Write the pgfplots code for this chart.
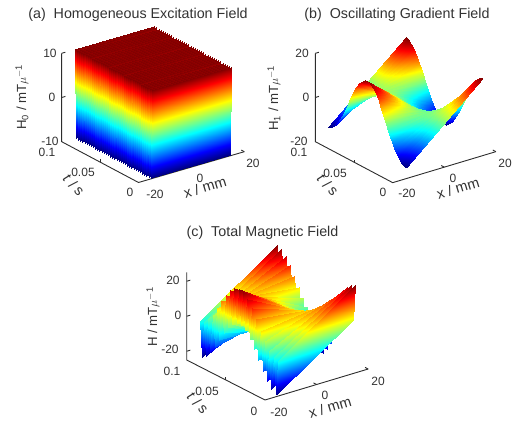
\documentclass[border=0pt]{standalone}
\usepackage{pgfplots}
\pgfplotsset{compat=1.18}
\usepackage{fontspec}
\setmainfont{Liberation Sans}
\definecolor{axc}{RGB}{45,45,45}
\definecolor{txc}{RGB}{50,50,50}
\pgfplotsset{
  fieldaxis/.style={hide axis, clip=false, anchor=origin, xmin=-20, xmax=20, ymin=0, ymax=0.1},
  fieldsurf/.style={surf, shader=interp, colormap/jet, mesh/cols=2, z buffer=none},
  axl/.style={axc, line width=0.9pt, no marks, forget plot},
}
\newcommand{\Lb}[4][0]{\node[text=txc, font=\fontsize{#4}{#4}\selectfont, rotate=#1, inner sep=0pt] at (#2) {\vphantom{}#3};}
\begin{document}
\begin{tikzpicture}[x=1pt,y=1pt]
\useasboundingbox (0,0) rectangle (512,423);
% ---------- (a)
\begin{axis}[fieldaxis, at={(191.4pt,300.1pt)}, x={(2.645pt,0.77pt)}, y={(-768pt,408pt)}, z={(0pt,4.42pt)},
  zmin=-10, zmax=10, point meta min=-10, point meta max=10]
\addplot3[axl] coordinates {(-20,0.1,10)(-20,0.1,-10)(-20,0,-10)(20,0,-10)};
\addplot3[axl] coordinates {(-20,0.1,10)(-18.6,0.1,10)};
\addplot3[axl] coordinates {(-20,0.1,0)(-18.6,0.1,0)};
\addplot3[axl] coordinates {(-20,0.05,-10)(-20,0.05,-9.4)};
\addplot3[axl] coordinates {(0,0,-10)(0,0.004,-10)};
\addplot3[axl] coordinates {(20,0,-10)(20,0.004,-10)};
\addplot3[fieldsurf, point meta=z] coordinates {
(-15,0.1,10)(15,0.1,10)
(-15,0.09861,-10)(15,0.09861,-10)
(-15,0.09722,10)(15,0.09722,10)
(-15,0.09583,-10)(15,0.09583,-10)
(-15,0.09444,10)(15,0.09444,10)
(-15,0.09306,-10)(15,0.09306,-10)
(-15,0.09167,10)(15,0.09167,10)
(-15,0.09028,-10)(15,0.09028,-10)
(-15,0.08889,10)(15,0.08889,10)
(-15,0.0875,-10)(15,0.0875,-10)
(-15,0.08611,10)(15,0.08611,10)
(-15,0.08472,-10)(15,0.08472,-10)
(-15,0.08333,10)(15,0.08333,10)
(-15,0.08194,-10)(15,0.08194,-10)
(-15,0.08056,10)(15,0.08056,10)
(-15,0.07917,-10)(15,0.07917,-10)
(-15,0.07778,10)(15,0.07778,10)
(-15,0.07639,-10)(15,0.07639,-10)
(-15,0.075,10)(15,0.075,10)
(-15,0.07361,-10)(15,0.07361,-10)
(-15,0.07222,10)(15,0.07222,10)
(-15,0.07083,-10)(15,0.07083,-10)
(-15,0.06944,10)(15,0.06944,10)
(-15,0.06806,-10)(15,0.06806,-10)
(-15,0.06667,10)(15,0.06667,10)
(-15,0.06528,-10)(15,0.06528,-10)
(-15,0.06389,10)(15,0.06389,10)
(-15,0.0625,-10)(15,0.0625,-10)
(-15,0.06111,10)(15,0.06111,10)
(-15,0.05972,-10)(15,0.05972,-10)
(-15,0.05833,10)(15,0.05833,10)
(-15,0.05694,-10)(15,0.05694,-10)
(-15,0.05556,10)(15,0.05556,10)
(-15,0.05417,-10)(15,0.05417,-10)
(-15,0.05278,10)(15,0.05278,10)
(-15,0.05139,-10)(15,0.05139,-10)
(-15,0.05,10)(15,0.05,10)
(-15,0.04861,-10)(15,0.04861,-10)
(-15,0.04722,10)(15,0.04722,10)
(-15,0.04583,-10)(15,0.04583,-10)
(-15,0.04444,10)(15,0.04444,10)
(-15,0.04306,-10)(15,0.04306,-10)
(-15,0.04167,10)(15,0.04167,10)
(-15,0.04028,-10)(15,0.04028,-10)
(-15,0.03889,10)(15,0.03889,10)
(-15,0.0375,-10)(15,0.0375,-10)
(-15,0.03611,10)(15,0.03611,10)
(-15,0.03472,-10)(15,0.03472,-10)
(-15,0.03333,10)(15,0.03333,10)
(-15,0.03194,-10)(15,0.03194,-10)
(-15,0.03056,10)(15,0.03056,10)
(-15,0.02917,-10)(15,0.02917,-10)
(-15,0.02778,10)(15,0.02778,10)
(-15,0.02639,-10)(15,0.02639,-10)
(-15,0.025,10)(15,0.025,10)
(-15,0.02361,-10)(15,0.02361,-10)
(-15,0.02222,10)(15,0.02222,10)
(-15,0.02083,-10)(15,0.02083,-10)
(-15,0.01944,10)(15,0.01944,10)
(-15,0.01806,-10)(15,0.01806,-10)
(-15,0.01667,10)(15,0.01667,10)
(-15,0.01528,-10)(15,0.01528,-10)
(-15,0.01389,10)(15,0.01389,10)
(-15,0.0125,-10)(15,0.0125,-10)
(-15,0.01111,10)(15,0.01111,10)
(-15,0.00972,-10)(15,0.00972,-10)
(-15,0.00833,10)(15,0.00833,10)
(-15,0.00694,-10)(15,0.00694,-10)
(-15,0.00556,10)(15,0.00556,10)
(-15,0.00417,-10)(15,0.00417,-10)
(-15,0.00278,10)(15,0.00278,10)
(-15,0.00139,-10)(15,0.00139,-10)
(-15,0,10)(15,0,10)
};
\end{axis}
% ---------- (b)
\begin{axis}[fieldaxis, at={(444.3pt,300pt)}, x={(2.58pt,0.775pt)}, y={(-774pt,410pt)}, z={(0pt,2.208pt)},
  zmin=-20, zmax=20, point meta min=-15, point meta max=15]
\addplot3[axl] coordinates {(-20,0.1,20)(-20,0.1,-20)(-20,0,-20)(20,0,-20)};
\addplot3[axl] coordinates {(-20,0.1,20)(-18.6,0.1,20)};
\addplot3[axl] coordinates {(-20,0.1,0)(-18.6,0.1,0)};
\addplot3[axl] coordinates {(-20,0.05,-20)(-20,0.05,-18.8)};
\addplot3[axl] coordinates {(0,0,-20)(0,0.004,-20)};
\addplot3[axl] coordinates {(20,0,-20)(20,0.004,-20)};
\addplot3[fieldsurf, point meta=z] coordinates {
(-15,0.1,-15)(15,0.1,15)
(-15,0.0975,-14.82)(15,0.0975,14.82)
(-15,0.095,-14.27)(15,0.095,14.27)
(-15,0.0925,-13.36)(15,0.0925,13.36)
(-15,0.09,-12.14)(15,0.09,12.14)
(-15,0.0875,-10.61)(15,0.0875,10.61)
(-15,0.085,-8.82)(15,0.085,8.82)
(-15,0.0825,-6.81)(15,0.0825,6.81)
(-15,0.08,-4.64)(15,0.08,4.64)
(-15,0.0775,-2.35)(15,0.0775,2.35)
(-15,0.075,0)(15,0.075,0)
(-15,0.0725,2.35)(15,0.0725,-2.35)
(-15,0.07,4.64)(15,0.07,-4.64)
(-15,0.0675,6.81)(15,0.0675,-6.81)
(-15,0.065,8.82)(15,0.065,-8.82)
(-15,0.0625,10.61)(15,0.0625,-10.61)
(-15,0.06,12.14)(15,0.06,-12.14)
(-15,0.0575,13.36)(15,0.0575,-13.36)
(-15,0.055,14.27)(15,0.055,-14.27)
(-15,0.0525,14.82)(15,0.0525,-14.82)
(-15,0.05,15)(15,0.05,-15)
(-15,0.0475,14.82)(15,0.0475,-14.82)
(-15,0.045,14.27)(15,0.045,-14.27)
(-15,0.0425,13.36)(15,0.0425,-13.36)
(-15,0.04,12.14)(15,0.04,-12.14)
(-15,0.0375,10.61)(15,0.0375,-10.61)
(-15,0.035,8.82)(15,0.035,-8.82)
(-15,0.0325,6.81)(15,0.0325,-6.81)
(-15,0.03,4.64)(15,0.03,-4.64)
(-15,0.0275,2.35)(15,0.0275,-2.35)
(-15,0.025,0)(15,0.025,0)
(-15,0.0225,-2.35)(15,0.0225,2.35)
(-15,0.02,-4.64)(15,0.02,4.64)
(-15,0.0175,-6.81)(15,0.0175,6.81)
(-15,0.015,-8.82)(15,0.015,8.82)
(-15,0.0125,-10.61)(15,0.0125,10.61)
(-15,0.01,-12.14)(15,0.01,12.14)
(-15,0.0075,-13.36)(15,0.0075,13.36)
(-15,0.005,-14.27)(15,0.005,14.27)
(-15,0.0025,-14.82)(15,0.0025,14.82)
(-15,0,-15)(15,0,15)
};
\end{axis}
% ---------- (c)
\begin{axis}[fieldaxis, at={(316.6pt,82.25pt)}, x={(2.58pt,0.775pt)}, y={(-783pt,400pt)}, z={(0pt,1.75pt)},
  zmin=-25, zmax=25, point meta min=-25, point meta max=25]
\addplot3[axl] coordinates {(-20,0.1,25)(-20,0.1,-25)(-20,0,-25)(20,0,-25)};
\addplot3[axl] coordinates {(-20,0.1,20)(-18.6,0.1,20)};
\addplot3[axl] coordinates {(-20,0.1,0)(-18.6,0.1,0)};
\addplot3[axl] coordinates {(-20,0.1,-20)(-18.6,0.1,-20)};
\addplot3[axl] coordinates {(-20,0.05,-25)(-20,0.05,-23.5)};
\addplot3[axl] coordinates {(0,0,-25)(0,0.004,-25)};
\addplot3[axl] coordinates {(20,0,-25)(20,0.004,-25)};
\addplot3[fieldsurf, point meta=z] coordinates {
(-15,0.1,-5)(15,0.1,25)
(-15,0.09722,-24.77)(15,0.09722,4.77)
(-15,0.09444,-4.10)(15,0.09444,24.10)
(-15,0.09167,-22.99)(15,0.09167,2.99)
(-15,0.08889,-1.49)(15,0.08889,21.49)
(-15,0.08611,-19.64)(15,0.08611,-0.36)
(-15,0.08333,2.5)(15,0.08333,17.5)
(-15,0.08056,-15.13)(15,0.08056,-4.87)
(-15,0.07778,7.40)(15,0.07778,12.60)
(-15,0.075,-10)(15,0.075,-10)
(-15,0.07222,12.60)(15,0.07222,7.40)
(-15,0.06944,-4.87)(15,0.06944,-15.13)
(-15,0.06667,17.5)(15,0.06667,2.5)
(-15,0.06389,-0.36)(15,0.06389,-19.64)
(-15,0.06111,21.49)(15,0.06111,-1.49)
(-15,0.05833,2.99)(15,0.05833,-22.99)
(-15,0.05556,24.10)(15,0.05556,-4.10)
(-15,0.05278,4.77)(15,0.05278,-24.77)
(-15,0.05,25)(15,0.05,-5)
(-15,0.04722,4.77)(15,0.04722,-24.77)
(-15,0.04444,24.10)(15,0.04444,-4.10)
(-15,0.04167,2.99)(15,0.04167,-22.99)
(-15,0.03889,21.49)(15,0.03889,-1.49)
(-15,0.03611,-0.36)(15,0.03611,-19.64)
(-15,0.03333,17.5)(15,0.03333,2.5)
(-15,0.03056,-4.87)(15,0.03056,-15.13)
(-15,0.02778,12.60)(15,0.02778,7.40)
(-15,0.025,-10)(15,0.025,-10)
(-15,0.02222,7.40)(15,0.02222,12.60)
(-15,0.01944,-15.13)(15,0.01944,-4.87)
(-15,0.01667,2.5)(15,0.01667,17.5)
(-15,0.01389,-19.64)(15,0.01389,-0.36)
(-15,0.01111,-1.49)(15,0.01111,21.49)
(-15,0.00833,-22.99)(15,0.00833,2.99)
(-15,0.00556,-4.10)(15,0.00556,24.10)
(-15,0.00278,-24.77)(15,0.00278,4.77)
(-15,0,-5)(15,0,25)
};
\end{axis}
% ---------- texts (a)
\Lb{138,408}{(a)\ \ Homogeneous Excitation Field}{14.3}
\Lb[90]{22,326}{H$_{\mathrm{0}}$ / mT$\mu^{\mathrm{-1}}$}{13.2}
\Lb{50,370}{10}{12}
\Lb{52,326}{0}{12}
\Lb{50,282}{-10}{12}
\Lb{47,271}{0.1}{12}
\Lb{83,251}{0.05}{12}
\Lb{130,231}{0}{12}
\Lb{155,229}{-20}{12}
\Lb{200,245}{0}{12}
\Lb{253,260}{20}{12}
\Lb[17]{205,236}{x / mm}{14.5}
\Lb[-47]{74,238}{\textit{t} / s}{14.5}
% ---------- texts (b)
\Lb{397,408}{(b)\ \ Oscillating Gradient Field}{14.3}
\Lb[90]{274,325}{H$_{\mathrm{1}}$ / mT$\mu^{\mathrm{-1}}$}{13.2}
\Lb{302,370}{20}{12}
\Lb{306,326}{0}{12}
\Lb{299,282}{-20}{12}
\Lb{299,271}{0.1}{12}
\Lb{335,250}{0.05}{12}
\Lb{383,231}{0}{12}
\Lb{407,230}{-20}{12}
\Lb{453,245}{0}{12}
\Lb{505,260}{20}{12}
\Lb[17]{458,235}{x / mm}{14.5}
\Lb[-47]{328,238}{\textit{t} / s}{14.5}
% ---------- texts (c)
\Lb{262.5,190}{(c)\ \ Total Magnetic Field}{14.3}
\Lb[90]{153,106}{H / mT$\mu^{\mathrm{-1}}$}{13.2}
\Lb{173,143}{20}{12}
\Lb{178,108}{0}{12}
\Lb{170,74}{-20}{12}
\Lb{172,52}{0.1}{12}
\Lb{207,32}{0.05}{12}
\Lb{254,12}{0}{12}
\Lb{279,11}{-20}{12}
\Lb{325,28}{0}{12}
\Lb{378,42}{20}{12}
\Lb[17]{330,16}{x / mm}{14.5}
\Lb[-47]{198,20}{\textit{t} / s}{14.5}
\end{tikzpicture}
\end{document}
